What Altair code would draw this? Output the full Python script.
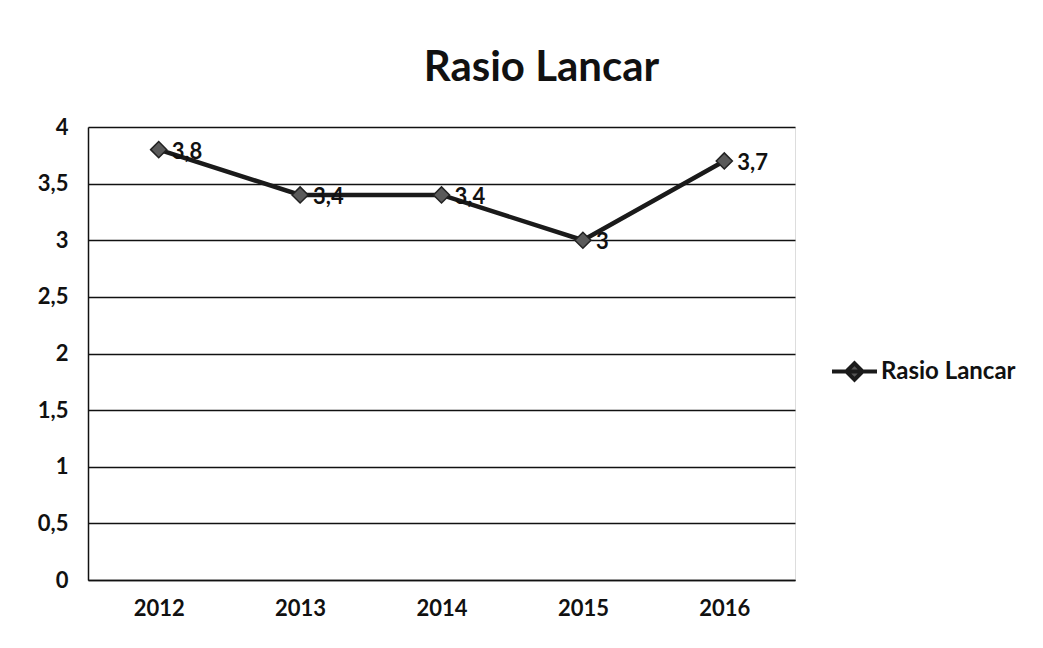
import altair as alt
import pandas as pd

years = ["2012", "2013", "2014", "2015", "2016"]
values = [3.8, 3.4, 3.4, 3.0, 3.7]
series = ["Rasio Lancar"] * len(years)

df = pd.DataFrame({"Tahun": years, "Nilai": values, "Seri": series})

FONT = "Lato"

legend_path = "M-1,0 L1,0 M-0.36,0 L0,-0.36 L0.36,0 L0,0.36 Z"

base = alt.Chart(df).encode(
    x=alt.X("Tahun:O", scale=alt.Scale(type="point", padding=0.5),
            axis=alt.Axis(title=None, labelAngle=0, labelFontSize=22, labelFontWeight="bold",
                          labelColor="#111", labelPadding=18, ticks=False, domain=True,
                          domainColor="#111", domainWidth=1.5, labelFont=FONT)),
    y=alt.Y("Nilai:Q", scale=alt.Scale(domain=[0, 4], nice=False),
            axis=alt.Axis(title=None, values=[0, 0.5, 1, 1.5, 2, 2.5, 3, 3.5, 4],
                          labelExpr="replace(format(datum.value, '.1~f'), '.', ',')",
                          labelFontSize=22, labelFontWeight="bold", labelColor="#111",
                          labelPadding=20, ticks=False, domain=True, domainColor="#111",
                          domainWidth=1.5, grid=True, gridColor="#111", gridWidth=1.5,
                          labelFont=FONT)),
)

line = base.mark_line(strokeWidth=4.5, color="#1a1a1a").encode(
    stroke=alt.Stroke("Seri:N", scale=alt.Scale(range=["#1a1a1a"]),
                      legend=alt.Legend(title=None, orient="none", legendX=742, legendY=220,
                                        symbolType=legend_path, symbolSize=2025,
                                        symbolStrokeWidth=4, symbolFillColor="#555",
                                        symbolStrokeColor="#1a1a1a",
                                        labelFontSize=24, labelFontWeight="bold",
                                        labelColor="#111", labelFont=FONT, labelOffset=2))
)

points = base.mark_point(shape="diamond", size=260, filled=True, fill="#5a5a5a",
                         stroke="#222", strokeWidth=1.5, opacity=1)

labels = base.transform_calculate(
    lbl="replace(format(datum.Nilai, '.1~f'), '.', ',')"
).mark_text(align="left", baseline="middle", dx=13, dy=2, fontSize=22,
            font=FONT, fontWeight="bold", color="#111").encode(text="lbl:N")

chart = alt.layer(line, points, labels).properties(
    width=707, height=453,
    title=alt.TitleParams("Rasio Lancar", fontSize=42, font=FONT, fontWeight="bold",
                          color="#111", anchor="middle", offset=26, dx=100),
    autosize=alt.AutoSizeParams(type="none"),
    padding={"left": 80, "top": 119, "right": 240, "bottom": 60},
).configure_view(stroke=None).configure(background="white")

chart.save("out.html", embed_options={"renderer": "svg", "actions": False})
